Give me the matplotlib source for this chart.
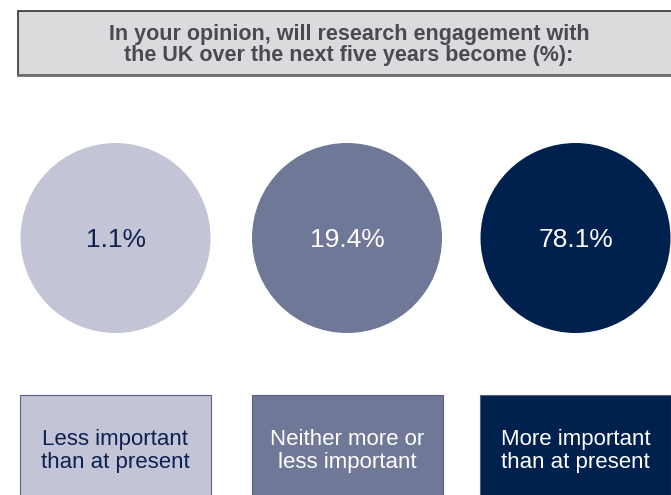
import matplotlib.pyplot as plt
from matplotlib.patches import Circle, Rectangle

# Survey answers and shares
categories = ['Less important\nthan at present',
              'Neither more or\nless important',
              'More important\nthan at present']
shares = [1.1, 19.4, 78.1]
fills = ['#c3c5d6', '#707898', '#00204e']
text_colours = ['#0d2050', 'white', 'white']
title = 'In your opinion, will research engagement with\nthe UK over the next five years become (%):'

plt.rcParams['font.family'] = ['Liberation Sans', 'DejaVu Sans']

fig = plt.figure(figsize=(6.71, 4.95), dpi=100)
ax = fig.add_axes([0, 0, 1, 1])
ax.set_xlim(0, 671)
ax.set_ylim(495, 0)
ax.axis('off')

# Header box, running off the right edge
ax.add_patch(Rectangle((18, 11), 670, 64, facecolor='#dadbdd',
                       edgecolor='#222222', linewidth=1.1))
ax.plot([18, 671], [75, 75], color='#6e6e6e', linewidth=2)
ax.text(349, 45, title, ha='center', va='center', fontsize=15.5,
        fontweight='bold', color='#4a4b50', linespacing=1.0)

centres = [115.5, 347, 575.5]
for cx, share, fill, tc, label in zip(centres, shares, fills, text_colours, categories):
    ax.add_patch(Circle((cx, 238), 95, facecolor=fill, edgecolor='none'))
    ax.text(cx, 240, f'{share}%', ha='center', va='center', fontsize=19, color=tc)
    ax.add_patch(Rectangle((cx - 95.5, 395), 191, 110, facecolor=fill,
                           edgecolor='#5a6080', linewidth=0.8))
    ax.text(cx, 451, label, ha='center', va='center', fontsize=16, color=tc,
            linespacing=1.18)

fig.savefig('out.png', dpi=100)
